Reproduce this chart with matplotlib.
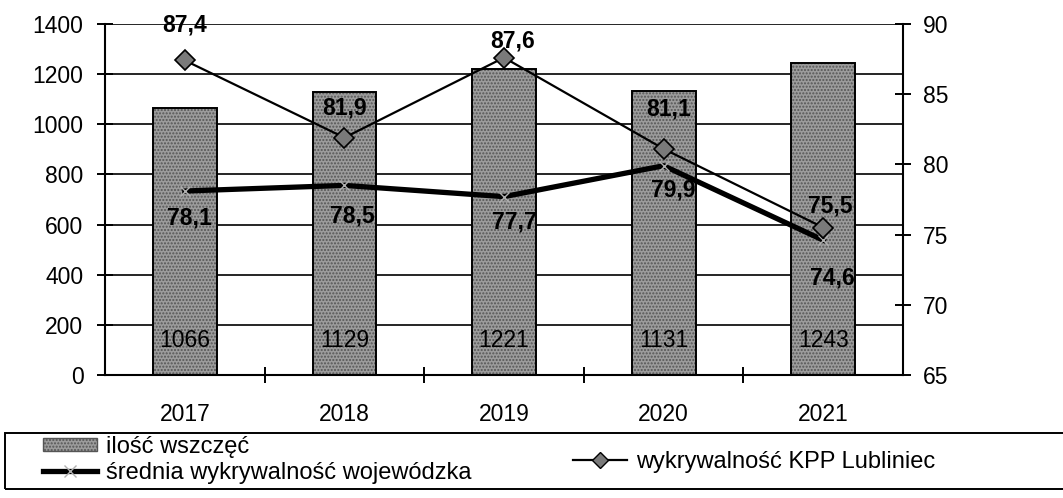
import matplotlib
matplotlib.use("Agg")
import matplotlib.pyplot as plt
from matplotlib.lines import Line2D
from matplotlib.patches import Patch, Rectangle

plt.rcParams['font.family'] = ['Liberation Sans', 'DejaVu Sans']
plt.rcParams['hatch.linewidth'] = 1.0

# data
years = ['2017', '2018', '2019', '2020', '2021']
wszczecia = [1066, 1129, 1221, 1131, 1243]
kpp_lubliniec = [87.4, 81.9, 87.6, 81.1, 75.5]
srednia_woj = [78.1, 78.5, 77.7, 79.9, 74.6]

# label offsets in pixels (dx, dy)
kpp_offsets = [(0, 35), (0, 30), (9, 17), (5, 40), (7, 22)]
sred_offsets = [(5, -27), (8, -31), (10, -25), (10, -24), (9, -38)]

FS = 16.5
LFS = 17

def fmt(v):
    return f"{v:.1f}".replace('.', ',')

fig = plt.figure(figsize=(10.63, 4.98), dpi=100)
fig.subplots_adjust(left=0.0988, right=0.8495, bottom=0.247, top=0.952)
ax = fig.add_subplot(111)
ax2 = ax.twinx()

x = list(range(len(years)))

# bars - stippled grey
ax.bar(x, wszczecia, width=0.40, color='#9c9c9c', hatch='.....',
       edgecolor='#555555', linewidth=0, zorder=2)
ax.bar(x, wszczecia, width=0.40, fill=False, edgecolor='black',
       linewidth=1.4, zorder=3)
for i, v in enumerate(wszczecia):
    ax.annotate(str(v), (i, 0), xytext=(0, 34), textcoords='offset pixels',
                ha='center', va='center', fontsize=FS, zorder=4)

ax.set_ylim(0, 1400)
ax.set_xlim(-0.5, 4.5)
ax.set_yticks(range(0, 1401, 200))
ax.yaxis.grid(True, color='black', linewidth=1.2)
ax.set_axisbelow(True)
ax.set_xticks(x)
ax.set_xticklabels(years)
ax.set_xticks([0.5, 1.5, 2.5, 3.5], minor=True)
ax.tick_params(axis='x', which='major', length=0, pad=20, labelsize=FS)
ax.tick_params(axis='x', which='minor', direction='inout', length=11, width=1.4)
ax.tick_params(axis='y', direction='inout', length=11, width=1.4, pad=10,
               labelsize=FS)
for s in ['top', 'right']:
    ax.spines[s].set_visible(False)
for s in ['left', 'bottom']:
    ax.spines[s].set_linewidth(1.5)

# lines on right axis
ax2.plot(x, srednia_woj, color='black', linewidth=3.8, marker='x',
         markersize=7, markeredgecolor='#b0b0b0', markeredgewidth=1.0, zorder=3)
ax2.plot(x, kpp_lubliniec, color='black', linewidth=1.6, marker='D',
         markersize=10, markerfacecolor='#7a7a7a', markeredgecolor='black',
         markeredgewidth=1.2, zorder=4)
for i, v in enumerate(kpp_lubliniec):
    ax2.annotate(fmt(v), (i, v), xytext=kpp_offsets[i], textcoords='offset pixels',
                 ha='center', va='center', fontsize=FS, fontweight='bold')
for i, v in enumerate(srednia_woj):
    ax2.annotate(fmt(v), (i, v), xytext=sred_offsets[i], textcoords='offset pixels',
                 ha='center', va='center', fontsize=FS, fontweight='bold')

ax2.set_ylim(65, 90)
ax2.set_yticks(range(65, 91, 5))
ax2.tick_params(axis='y', direction='inout', length=11, width=1.4, pad=9,
                labelsize=FS)
for s in ['top', 'left', 'bottom']:
    ax2.spines[s].set_visible(False)
ax2.spines['right'].set_linewidth(1.5)

# legend box below the chart
W, H = 1063, 498
fig.patches.append(Rectangle((5 / W, 1 - 489 / H), 1.1, 56 / H, fill=False,
                             edgecolor='black', linewidth=1.4,
                             transform=fig.transFigure, figure=fig))

h_bar = Patch(facecolor='#9c9c9c', hatch='.....', edgecolor='#555555')
h_sred = Line2D([], [], color='black', linewidth=3.8, marker='x', markersize=8,
                markeredgecolor='#b0b0b0', markeredgewidth=1.0)
h_kpp = Line2D([], [], color='black', linewidth=1.6, marker='D', markersize=8,
               markerfacecolor='#7a7a7a', markeredgecolor='black')

leg_kw = dict(frameon=False, fontsize=LFS, borderpad=0, borderaxespad=0,
              handlelength=2.3, handleheight=0.5, handletextpad=0.35,
              loc='center left')
fig.legend([h_bar], ['ilość wszczęć'], bbox_to_anchor=(43 / W, 1 - 447 / H), **leg_kw)
fig.legend([h_sred], ['średnia wykrywalność wojewódzka'],
           bbox_to_anchor=(43 / W, 1 - 473 / H), **leg_kw)
fig.legend([h_kpp], ['wykrywalność KPP Lubliniec'],
           bbox_to_anchor=(573 / W, 1 - 462 / H), **leg_kw)

fig.savefig('out.png', dpi=100)
